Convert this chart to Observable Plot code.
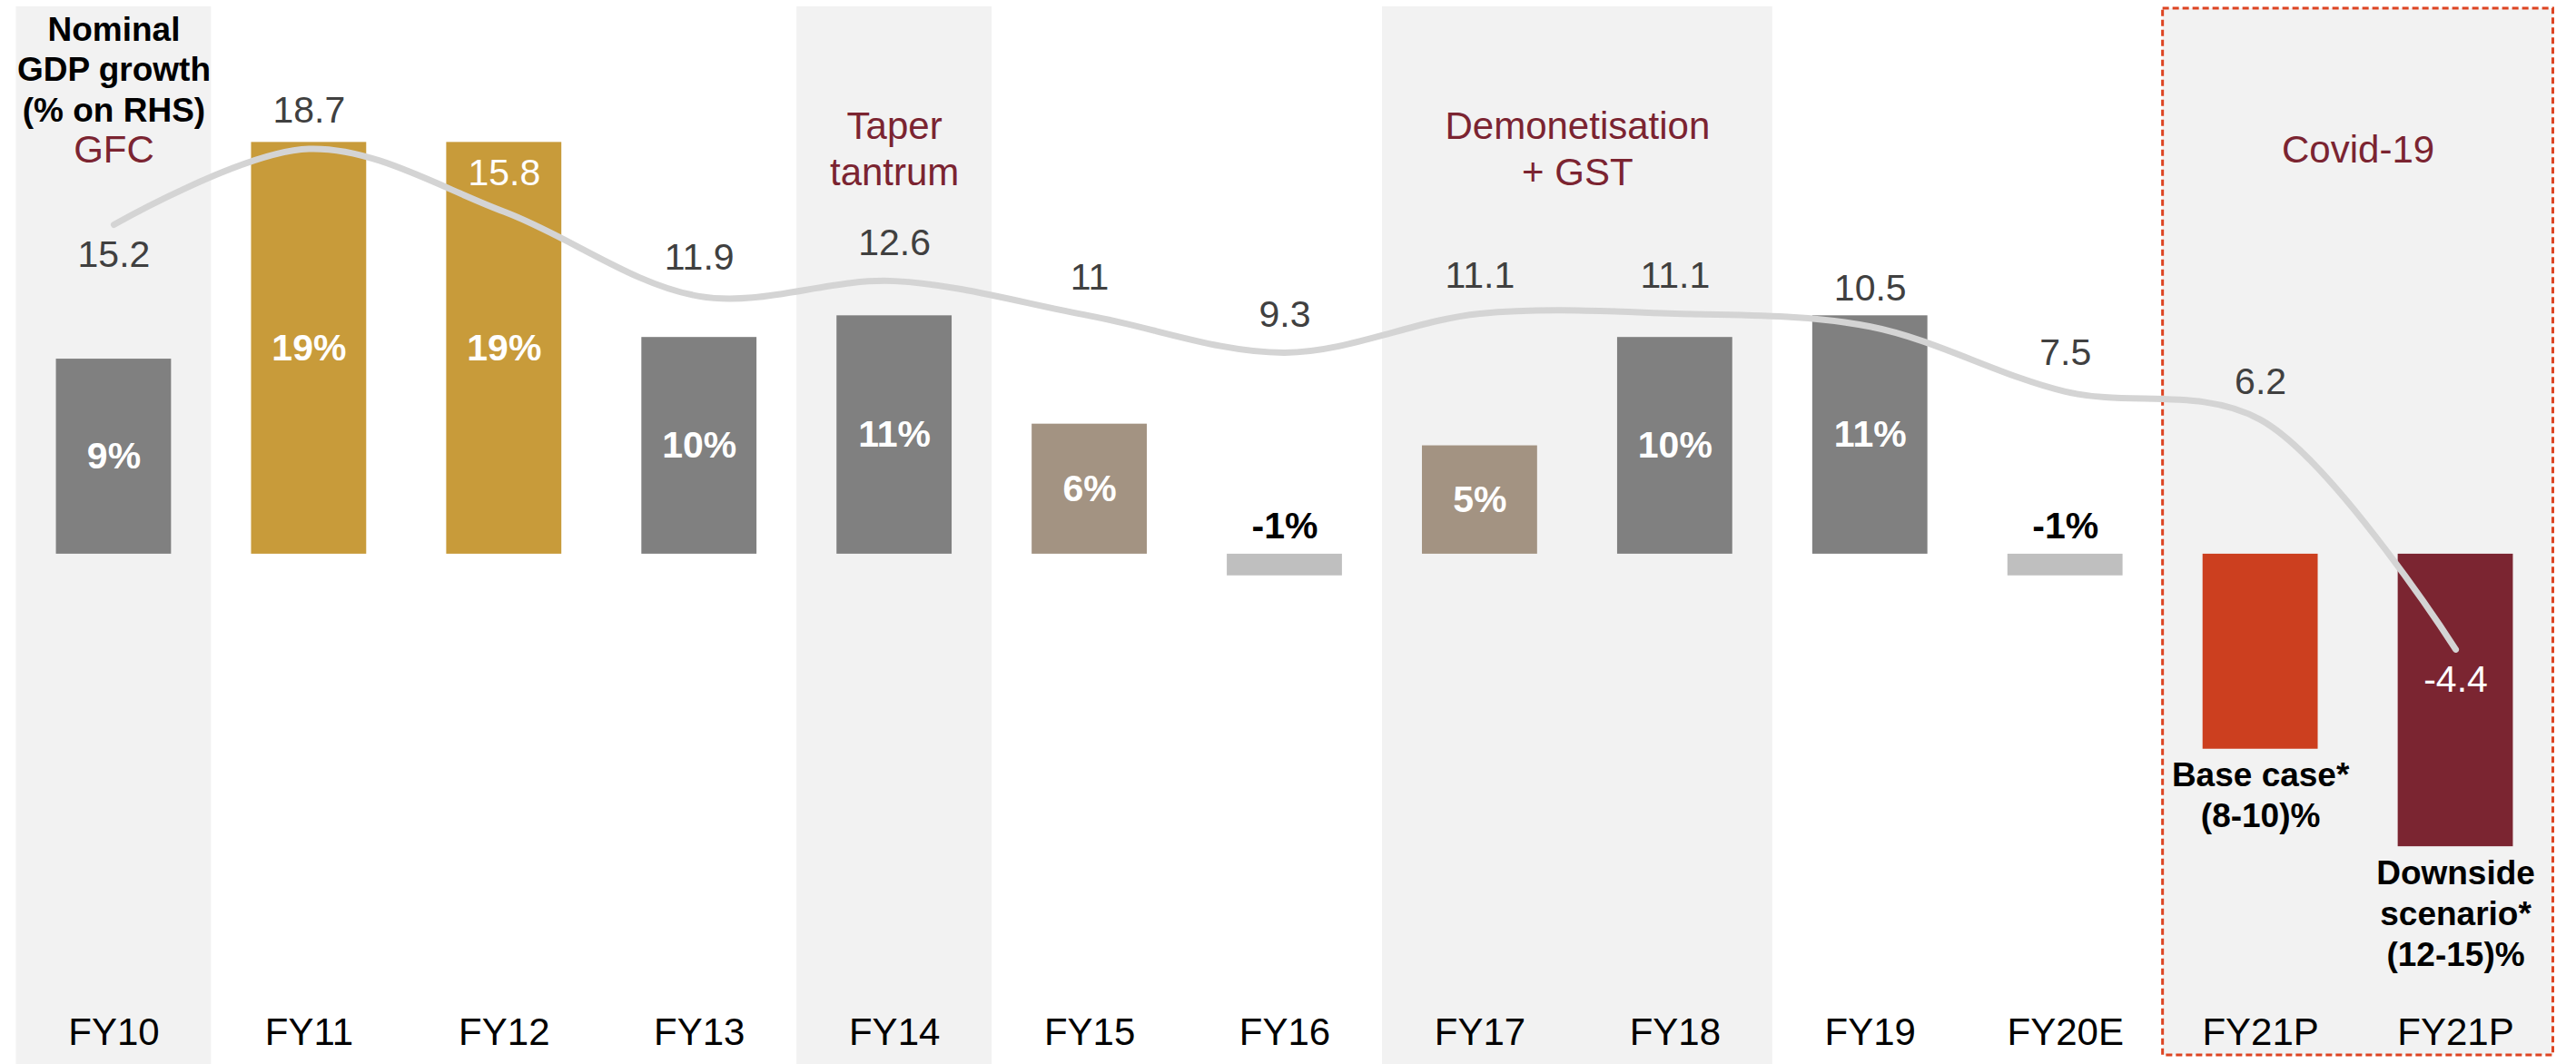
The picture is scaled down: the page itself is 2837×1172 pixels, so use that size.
<!DOCTYPE html>
<html>
<head>
<meta charset="utf-8">
<script src="https://cdn.jsdelivr.net/npm/d3@7"></script>
<script src="https://cdn.jsdelivr.net/npm/@observablehq/plot@0.6"></script>
<style>
  html, body { margin: 0; padding: 0; background: #fff; }
  #chart svg { display: block; }
</style>
</head>
<body>
<div id="chart"></div>
<script>
// ---- data ----
const categories = ["FY10","FY11","FY12","FY13","FY14","FY15","FY16","FY17","FY18","FY19","FY20E","FY21P","FY21P"];
const barGrowth  = [9, 19, 19, 10, 11, 6, -1, 5, 10, 11, -1, -9, -13.5];
const barGroup   = ["normal","high","high","normal","normal","moderate","negative","moderate","normal","normal","negative","base","downside"];
const gdpGrowth  = [15.2, 18.7, 15.8, 11.9, 12.6, 11, 9.3, 11.1, 11.1, 10.5, 7.5, 6.2, -4.4];
const eventNames = ["GFC", "Taper\ntantrum", "Demonetisation\n+ GST", "Covid-19"];
const eventFirst = [0, 4, 7, 11];
const eventLast  = [0, 4, 8, 12];
const scenarioIndex = [11, 12];
const scenarioText  = ["Base case*\n(8-10)%", "Downside\nscenario*\n(12-15)%"];
const gdpTitle = "Nominal\nGDP growth\n(% on RHS)";

// ---- layout / style ----
const W = 2837, H = 1172;
const marginTop = 0, marginBottom = 62, marginLeft = 17.5, marginRight = 25.5;
const yDomain = [-20.95, 25.55];
const pxPerUnit = (H - marginTop - marginBottom) / (yDomain[1] - yDomain[0]);
const barHalf = 0.295;
const font = "'Liberation Sans', Arial, Helvetica, sans-serif";
const groupDomain = ["normal","high","moderate","negative","base","downside"];
const groupRange  = ["#808080","#C89B3A","#A39382","#BFBFBF","#CC3F1F","#7B2531"];

const n = categories.length;
const rows = categories.map((c, i) => {
  const below = i === 0 || i === n - 1;
  const labelVal = gdpGrowth[i] + (below ? -33 : 42) / pxPerUnit;
  const b = barGrowth[i];
  const inside = b > 0 ? (labelVal > 0 && labelVal < b) : (labelVal < 0 && labelVal > b);
  return {i, cat: c, bar: b, group: barGroup[i], gdp: gdpGrowth[i], below, inside};
});
const events = eventNames.map((name, k) => ({
  name, first: eventFirst[k], last: eventLast[k], mid: (eventFirst[k] + eventLast[k]) / 2,
  forecast: eventLast[k] === n - 1
}));
const notes = scenarioIndex.map((i, k) => ({i, bar: barGrowth[i], text: scenarioText[k]}));

const chart = Plot.plot({
  width: W, height: H,
  marginTop, marginBottom, marginLeft, marginRight,
  style: {fontFamily: font, background: "#fff", overflow: "visible"},
  x: {domain: [-0.5, n - 0.5], axis: null},
  y: {domain: yDomain, axis: null},
  color: {type: "ordinal", domain: groupDomain, range: groupRange},
  marks: [
    // shaded event periods
    Plot.rect(events.filter(e => !e.forecast), {
      x1: e => e.first - 0.5, x2: e => e.last + 0.5,
      fill: "#F2F2F2", insetTop: 7, insetBottom: -62
    }),
    Plot.rect(events.filter(e => e.forecast), {
      x1: e => e.first - 0.5, x2: e => e.last + 0.5,
      fill: "#F2F2F2", stroke: "#DD4422", strokeWidth: 3, strokeDasharray: "7,4",
      insetTop: 9, insetBottom: -52
    }),
    // bars
    Plot.rect(rows, {
      x1: d => d.i - barHalf, x2: d => d.i + barHalf,
      y1: () => 0, y2: d => d.bar, fill: "group"
    }),
    // GDP growth line
    Plot.line(rows, {
      x: "i", y: "gdp", curve: "catmull-rom",
      stroke: "#D4D4D4", strokeWidth: 7, strokeLinecap: "round", strokeLinejoin: "round"
    }),
    // bar labels inside bars
    Plot.text(rows.filter(d => d.bar > 0), {
      x: "i", y: d => d.bar / 2, text: d => `${d.bar}%`,
      fill: "#fff", fontWeight: "bold", fontSize: 41
    }),
    // small negative bar labels above
    Plot.text(rows.filter(d => d.group === "negative"), {
      x: "i", y: () => 0, text: d => `${d.bar}%`, dy: -31,
      fill: "#000", fontWeight: "bold", fontSize: 41
    }),
    // GDP value labels
    Plot.text(rows.filter(d => !d.below && !d.inside), {
      x: "i", y: "gdp", text: d => String(d.gdp), dy: -42, fill: "#404040", fontSize: 41
    }),
    Plot.text(rows.filter(d => !d.below && d.inside), {
      x: "i", y: "gdp", text: d => String(d.gdp), dy: -42, fill: "#fff", fontSize: 41
    }),
    Plot.text(rows.filter(d => d.below && !d.inside), {
      x: "i", y: "gdp", text: d => String(d.gdp), dy: 33, fill: "#404040", fontSize: 41
    }),
    Plot.text(rows.filter(d => d.below && d.inside), {
      x: "i", y: "gdp", text: d => String(d.gdp), dy: 33, fill: "#fff", fontSize: 41
    }),
    // scenario notes below forecast bars
    Plot.text(notes, {
      x: "i", y: "bar", text: "text", lineAnchor: "top", dy: 9,
      fill: "#000", fontWeight: "bold", fontSize: 37, lineHeight: 1.22
    }),
    // event annotations
    Plot.text(events, {
      x: "mid", text: "name", frameAnchor: "top", dy: 162, lineAnchor: "middle",
      fill: "#7B2431", fontSize: 42, lineHeight: 1.2
    }),
    // line series title
    Plot.text([gdpTitle], {
      x: () => 0, text: d => d, frameAnchor: "top", dy: 133, lineAnchor: "bottom",
      fill: "#000", fontWeight: "bold", fontSize: 37, lineHeight: 1.19
    }),
    // category axis
    Plot.axisX({
      anchor: "bottom", ticks: d3.range(n), tickFormat: i => categories[i],
      tickSize: 0, tickPadding: 11, fontSize: 42, label: null, fill: "#000"
    })
  ]
});
document.getElementById("chart").appendChild(chart);
</script>
</body>
</html>
